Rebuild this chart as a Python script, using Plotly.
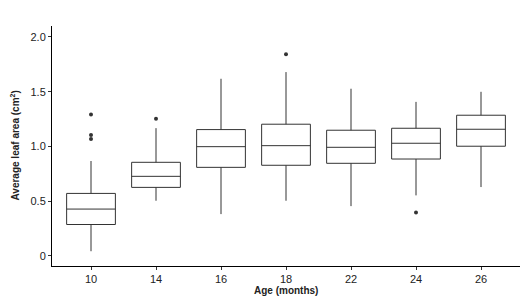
import plotly.graph_objects as go

ages = ["10", "14", "16", "18", "22", "24", "26"]
lower = [0.043, 0.504, 0.382, 0.504, 0.455, 0.553, 0.629]
q1 = [0.287, 0.626, 0.809, 0.828, 0.846, 0.885, 1.002]
median = [0.428, 0.727, 0.998, 1.007, 0.992, 1.029, 1.157]
q3 = [0.571, 0.855, 1.154, 1.203, 1.148, 1.166, 1.285]
upper = [0.867, 1.167, 1.618, 1.679, 1.527, 1.407, 1.499]

outlier_x = ["10", "10", "10", "14", "18", "24"]
outlier_y = [1.291, 1.105, 1.069, 1.252, 1.841, 0.397]

ytick_vals = [0, 0.5, 1.0, 1.5, 2.0]
ytick_text = ["0", "0.5", "1.0", "1.5", "2.0"]

x_title = "Age (months)"
y_title = "Average leaf area (cm<sup>2</sup>)"

font_family = "Liberation Sans Narrow, Liberation Sans, Arial, sans-serif"
txt = "#222222"

fig = go.Figure()
fig.add_trace(go.Box(
    x=ages, q1=q1, median=median, q3=q3,
    lowerfence=lower, upperfence=upper,
    width=0.75, whiskerwidth=0,
    fillcolor="white",
    line=dict(color="#333333", width=1),
    boxpoints=False,
    showlegend=False,
))
fig.add_trace(go.Scatter(
    x=outlier_x, y=outlier_y, mode="markers",
    marker=dict(color="#333333", size=4),
    showlegend=False,
))

# page has an 8px body margin, so the figure is drawn 8px smaller
fig.update_layout(
    width=524, height=288,
    margin=dict(l=44, r=12, t=18, b=30),
    paper_bgcolor="white", plot_bgcolor="white",
    font=dict(family=font_family, size=11, color=txt),
)
fig.update_xaxes(
    type="category", categoryorder="array", categoryarray=ages,
    range=[-0.6, 6.6], automargin=False,
    showline=True, linecolor="black", linewidth=1,
    ticks="outside", ticklen=3, tickcolor="#333333",
    showgrid=False, zeroline=False,
    tickfont=dict(size=11, color=txt),
)
fig.update_yaxes(
    range=[-0.092, 2.1], automargin=False,
    tickvals=ytick_vals, ticktext=ytick_text,
    showline=True, linecolor="black", linewidth=1,
    ticks="outside", ticklen=3, tickcolor="#333333",
    showgrid=False, zeroline=False,
    tickfont=dict(size=11, color=txt),
)
fig.add_annotation(
    text="<b>" + x_title + "</b>", xref="paper", yref="paper",
    x=0.5, y=0, xanchor="center", yanchor="middle", yshift=-24,
    showarrow=False, font=dict(size=10, color=txt),
)
fig.add_annotation(
    text="<b>" + y_title + "</b>", xref="paper", yref="paper",
    x=0, y=0.5, xanchor="center", yanchor="middle", xshift=-37.5,
    textangle=-90, showarrow=False, font=dict(size=10, color=txt),
)

fig.write_html("out.html")
